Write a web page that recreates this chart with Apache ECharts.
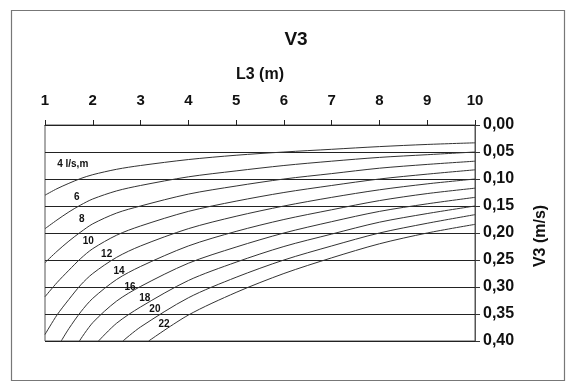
<!DOCTYPE html>
<html>
<head>
<meta charset="utf-8">
<script src="https://cdn.jsdelivr.net/npm/echarts@6/dist/echarts.min.js"></script>
<style>
  html, body { margin: 0; padding: 0; background: #ffffff; }
  #chart { width: 570px; height: 387px; }
</style>
</head>
<body>
<div id="chart"></div>
<script>
// Flow per metre of weir (l/s,m) for each curve
const flows = [4, 6, 8, 10, 12, 14, 16, 18, 20, 22];

// Length L3 (m) sample points shared by the curves that start at L3 = 1
const lengths = [1, 1.25, 1.5, 1.75, 2, 2.5, 3, 4, 5, 6, 7, 8, 9, 10];

// Velocity V3 (m/s) for the curves 4 .. 12
const v4  = [0.130, 0.118, 0.108, 0.099, 0.092, 0.082, 0.075, 0.064, 0.056, 0.050, 0.045, 0.040, 0.036, 0.033];
const v6  = [0.192, 0.176, 0.161, 0.148, 0.137, 0.122, 0.112, 0.096, 0.085, 0.075, 0.067, 0.060, 0.055, 0.050];
const v8  = [0.255, 0.234, 0.215, 0.198, 0.183, 0.163, 0.150, 0.128, 0.113, 0.100, 0.090, 0.080, 0.073, 0.067];
const v10 = [0.318, 0.292, 0.269, 0.247, 0.229, 0.204, 0.187, 0.160, 0.141, 0.125, 0.112, 0.100, 0.091, 0.083];
const v12 = [0.388, 0.352, 0.323, 0.296, 0.275, 0.245, 0.224, 0.192, 0.169, 0.150, 0.134, 0.120, 0.109, 0.100];

// Curves 14 .. 22 enter the scale at V3 = 0.40
const l14 = [1.34, 1.5, 1.75, 2, 2.5, 3, 4, 5, 6, 7, 8, 9, 10];
const v14 = [0.400, 0.377, 0.346, 0.321, 0.286, 0.262, 0.224, 0.197, 0.175, 0.157, 0.140, 0.127, 0.117];
const l16 = [1.72, 2, 2.5, 3, 4, 5, 6, 7, 8, 9, 10];
const v16 = [0.400, 0.366, 0.326, 0.299, 0.256, 0.226, 0.200, 0.179, 0.160, 0.146, 0.134];
const l18 = [2.12, 2.5, 3, 4, 5, 6, 7, 8, 9, 10];
const v18 = [0.400, 0.367, 0.337, 0.288, 0.254, 0.225, 0.202, 0.180, 0.164, 0.150];
const l20 = [2.63, 3, 4, 5, 6, 7, 8, 9, 10];
const v20 = [0.400, 0.374, 0.320, 0.282, 0.250, 0.224, 0.200, 0.182, 0.166];
const l22 = [3.17, 4, 5, 6, 7, 8, 9, 10];
const v22 = [0.400, 0.352, 0.310, 0.275, 0.246, 0.220, 0.200, 0.184];

// Axis ticks
const lengthTicks = [1, 2, 3, 4, 5, 6, 7, 8, 9, 10];
const velocityTicks = [0, 0.05, 0.10, 0.15, 0.20, 0.25, 0.30, 0.35, 0.40];

// Curve captions
const captions = ['4 l/s,m', '6', '8', '10', '12', '14', '16', '18', '20', '22'];
// Caption anchors in axis units (L3, V3)
const captionAt = [
  [1.58, 0.073], [1.663, 0.133], [1.768, 0.174], [1.906, 0.215], [2.29, 0.240],
  [2.55, 0.271], [2.78, 0.300], [3.09, 0.320], [3.30, 0.342], [3.49, 0.369]
];

const xs = [lengths, lengths, lengths, lengths, lengths, l14, l16, l18, l20, l22];
const vs = [v4, v6, v8, v10, v12, v14, v16, v18, v20, v22];

const FONT = '"Liberation Sans", Arial, sans-serif';

const series = flows.map(function (q, i) {
  return {
    name: String(q),
    type: 'line',
    data: xs[i].map(function (l, k) { return [l, vs[i][k]]; }),
    smooth: 0.3,
    showSymbol: false,
    symbol: 'none',
    silent: true,
    clip: true,
    lineStyle: { color: '#333', width: 1 },
    markPoint: {
      symbol: 'circle',
      symbolSize: 0,
      silent: true,
      data: [{
        coord: captionAt[i],
        label: {
          show: true,
          formatter: captions[i],
          position: 'inside',
          color: '#111',
          fontFamily: FONT,
          fontWeight: 'bold',
          fontSize: 10
        }
      }]
    }
  };
});

const chart = echarts.init(document.getElementById('chart'), null, { renderer: 'canvas' });

chart.setOption({
  animation: false,
  backgroundColor: '#ffffff',
  title: {
    text: 'V3',
    left: 291,
    top: 25,
    textAlign: 'center',
    textStyle: { fontFamily: FONT, fontWeight: 'bold', fontSize: 19, color: '#111' }
  },
  graphic: [
    {
      type: 'rect',
      shape: { x: 11.5, y: 10.5, width: 553, height: 370 },
      style: { fill: 'none', stroke: '#777', lineWidth: 1.2 },
      silent: true,
      z: -1
    },
    {
      // vertical axis title, reading bottom to top
      type: 'text',
      x: 541,
      y: 236,
      rotation: Math.PI / 2,
      silent: true,
      style: {
        text: 'V3 (m/s)',
        align: 'center',
        verticalAlign: 'middle',
        fill: '#111',
        font: 'bold 16px "Liberation Sans", Arial, sans-serif'
      }
    }
  ],
  grid: {
    left: 45,
    right: 95,
    top: 125,
    bottom: 46,
    show: true,
    borderColor: '#555',
    borderWidth: 1,
    containLabel: false
  },
  xAxis: {
    type: 'value',
    position: 'top',
    min: lengthTicks[0],
    max: lengthTicks[lengthTicks.length - 1],
    interval: 1,
    name: 'L3 (m)',
    nameLocation: 'middle',
    nameGap: 42,
    nameTextStyle: { fontFamily: FONT, fontWeight: 'bold', fontSize: 16, color: '#111' },
    axisLine: { show: true, onZero: false, lineStyle: { color: '#222', width: 1 } },
    axisTick: { show: true, inside: false, length: 5, lineStyle: { color: '#222' } },
    axisLabel: {
      margin: 17,
      fontFamily: FONT, fontWeight: 'bold', fontSize: 15, color: '#111',
      formatter: function (v) { return String(v); }
    },
    splitLine: { show: false }
  },
  yAxis: {
    type: 'value',
    position: 'right',
    inverse: true,
    min: velocityTicks[0],
    max: velocityTicks[velocityTicks.length - 1],
    interval: 0.05,
    axisLine: { show: true, lineStyle: { color: '#555', width: 1 } },
    axisTick: { show: true, inside: false, length: 5, lineStyle: { color: '#333' } },
    axisLabel: {
      margin: 8,
      fontFamily: FONT, fontWeight: 'bold', fontSize: 16, color: '#111',
      formatter: function (v) { return v.toFixed(2).replace('.', ','); }
    },
    splitLine: { show: true, lineStyle: { color: '#222', width: 1 } }
  },
  series: series
});
</script>
</body>
</html>
